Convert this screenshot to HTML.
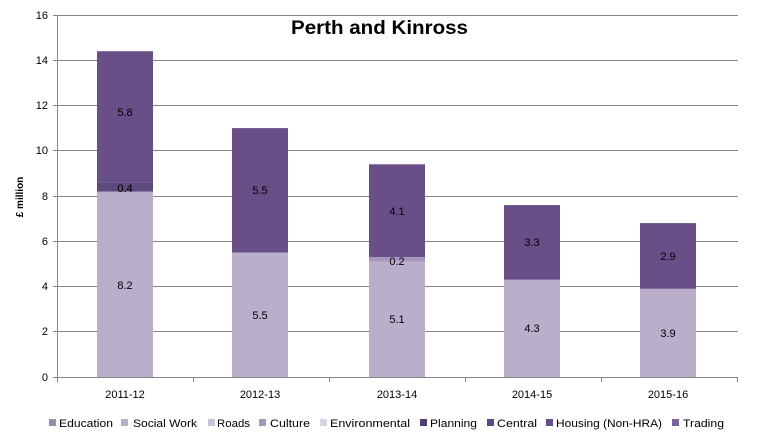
<!DOCTYPE html>
<html><head><style>body{margin:0;background:#fff}svg{display:block;font-family:"Liberation Sans",sans-serif}</style></head><body>
<svg width="759" height="443" xmlns="http://www.w3.org/2000/svg">
<rect width="759" height="443" fill="#fff"/>
<g stroke="#868686" stroke-width="1">
<line x1="58" y1="15.5" x2="738" y2="15.5"/><line x1="58" y1="60.5" x2="738" y2="60.5"/><line x1="58" y1="105.5" x2="738" y2="105.5"/><line x1="58" y1="150.5" x2="738" y2="150.5"/><line x1="58" y1="196.5" x2="738" y2="196.5"/><line x1="58" y1="241.5" x2="738" y2="241.5"/><line x1="58" y1="286.5" x2="738" y2="286.5"/><line x1="58" y1="331.5" x2="738" y2="331.5"/><line x1="53" y1="377.5" x2="738" y2="377.5"/>
<line x1="57.5" y1="15" x2="57.5" y2="377"/>
<line x1="53" y1="15.5" x2="58" y2="15.5"/><line x1="53" y1="60.5" x2="58" y2="60.5"/><line x1="53" y1="105.5" x2="58" y2="105.5"/><line x1="53" y1="150.5" x2="58" y2="150.5"/><line x1="53" y1="196.5" x2="58" y2="196.5"/><line x1="53" y1="241.5" x2="58" y2="241.5"/><line x1="53" y1="286.5" x2="58" y2="286.5"/><line x1="53" y1="331.5" x2="58" y2="331.5"/>
<line x1="193.5" y1="377" x2="193.5" y2="382"/><line x1="329.5" y1="377" x2="329.5" y2="382"/><line x1="465.5" y1="377" x2="465.5" y2="382"/><line x1="601.5" y1="377" x2="601.5" y2="382"/><line x1="737.5" y1="377" x2="737.5" y2="382"/><line x1="57.5" y1="377" x2="57.5" y2="382"/>
</g>
<g>
<rect x="97" y="191.5" width="56" height="185.5" fill="#B9AFCB"/>
<rect x="97" y="182.4" width="56" height="9.1" fill="#5D4A7E"/>
<rect x="97" y="51.2" width="56" height="131.2" fill="#684F88"/>
<rect x="232" y="252.6" width="56" height="124.4" fill="#B9AFCB"/>
<rect x="232" y="128.1" width="56" height="124.5" fill="#684F88"/>
<rect x="369" y="261.6" width="56" height="115.4" fill="#B9AFCB"/>
<rect x="369" y="257.1" width="56" height="4.5" fill="#A597BD"/>
<rect x="369" y="164.3" width="56" height="92.8" fill="#684F88"/>
<rect x="504" y="279.7" width="56" height="97.3" fill="#B9AFCB"/>
<rect x="504" y="205.1" width="56" height="74.6" fill="#684F88"/>
<rect x="640" y="288.8" width="56" height="88.2" fill="#B9AFCB"/>
<rect x="640" y="223.1" width="56" height="65.7" fill="#684F88"/>
</g>
<g font-size="11" fill="#000" text-anchor="middle">
<text x="125" y="289">8.2</text><text x="125" y="192">0.4</text><text x="125" y="116">5.8</text>
<text x="260" y="319">5.5</text><text x="260" y="194">5.5</text>
<text x="397" y="323">5.1</text><text x="397" y="265">0.2</text><text x="397" y="215">4.1</text>
<text x="532" y="332">4.3</text><text x="532" y="246">3.3</text>
<text x="668" y="337">3.9</text><text x="668" y="260">2.9</text>
</g>
<g font-size="11" text-anchor="end">
<text x="48" y="19">16</text><text x="48" y="64">14</text><text x="48" y="109">12</text><text x="48" y="154">10</text><text x="48" y="200">8</text><text x="48" y="245">6</text><text x="48" y="290">4</text><text x="48" y="335">2</text><text x="48" y="381">0</text>
</g>
<g font-size="11" text-anchor="middle">
<text x="125" y="398">2011-12</text><text x="260" y="398">2012-13</text><text x="397" y="398">2013-14</text><text x="532" y="398">2014-15</text><text x="668" y="398">2015-16</text>
</g>
<text x="0" y="0" font-size="10" font-weight="bold" transform="translate(23,197) rotate(-90)" text-anchor="middle">£ million</text>
<text x="291" y="34" font-size="19" font-weight="bold" textLength="177" lengthAdjust="spacingAndGlyphs">Perth and Kinross</text>
<g font-size="11">
<rect x="49" y="419" width="7" height="7" fill="#9B8CB7"/><text x="59" y="427" textLength="54" lengthAdjust="spacingAndGlyphs">Education</text>
<rect x="121" y="419" width="7" height="7" fill="#B9AFCB"/><text x="133" y="427" textLength="64" lengthAdjust="spacingAndGlyphs">Social Work</text>
<rect x="208" y="419" width="7" height="7" fill="#C9C1D9"/><text x="217" y="427" textLength="33" lengthAdjust="spacingAndGlyphs">Roads</text>
<rect x="259" y="419" width="7" height="7" fill="#A597BD"/><text x="270" y="427" textLength="40" lengthAdjust="spacingAndGlyphs">Culture</text>
<rect x="320" y="419" width="7" height="7" fill="#D8D2E3"/><text x="330" y="427" textLength="80" lengthAdjust="spacingAndGlyphs">Environmental</text>
<rect x="420" y="419" width="7" height="7" fill="#4F3D6E"/><text x="430" y="427" textLength="47" lengthAdjust="spacingAndGlyphs">Planning</text>
<rect x="487" y="419" width="7" height="7" fill="#5D4A7E"/><text x="497" y="427" textLength="40" lengthAdjust="spacingAndGlyphs">Central</text>
<rect x="546" y="419" width="7" height="7" fill="#684F88"/><text x="556" y="427" textLength="106" lengthAdjust="spacingAndGlyphs">Housing (Non-HRA)</text>
<rect x="672" y="419" width="7" height="7" fill="#7A629A"/><text x="683" y="427" textLength="41" lengthAdjust="spacingAndGlyphs">Trading</text>
</g>
</svg>
</body></html>
